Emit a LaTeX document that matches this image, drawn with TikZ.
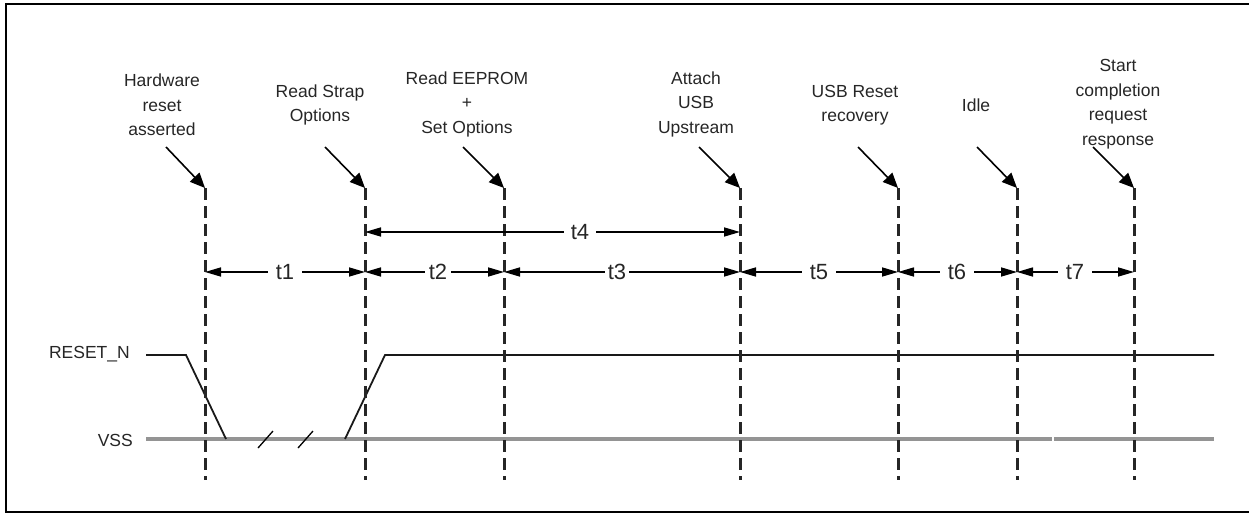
\documentclass[tikz,border=0pt]{standalone}
\usepackage{fontspec}
\setmainfont{Liberation Sans}
\usepackage{tikz}
\usetikzlibrary{arrows.meta}
\usetikzlibrary{positioning}
\tikzstyle{event} = [draw, line width=3pt, dash pattern=on 12pt off 6pt, color=black!85]
\tikzstyle{pointer} = [draw, line width=1.6pt, -{Triangle[length=15pt,width=13pt]}]
\tikzstyle{span} = [draw, line width=1.6pt, -{Triangle[length=16pt,width=9pt]}]

\begin{document}
\begin{tikzpicture}[x=1pt, y=-1pt,
	evlabel/.style={align=center, inner sep=0pt,
		font={\fontsize{17.5}{24.5}\selectfont}, text=black!85},
	tlabel/.style={inner sep=7pt, font={\fontsize{22}{24}\selectfont}, text=black!85},
	siglabel/.style={anchor=east, inner sep=0pt,
		font={\fontsize{17.5}{20}\selectfont}, text=black!85}]
	\useasboundingbox (0,0) rectangle (1249,514);
	%% Frame
	\draw[line width=2.2pt] (1262,4) -- (6,4) -- (6,512) -- (1262,512);
	%% Event lines
	\coordinate (e1) at (205,188); \coordinate (e1b) at (205,480);
	\coordinate (e2) at (365,188); \coordinate (e2b) at (365,480);
	\coordinate (e3) at (504,188); \coordinate (e3b) at (504,480);
	\coordinate (e4) at (740,188); \coordinate (e4b) at (740,480);
	\coordinate (e5) at (898,188); \coordinate (e5b) at (898,480);
	\coordinate (e6) at (1017,188); \coordinate (e6b) at (1017,480);
	\coordinate (e7) at (1134,188); \coordinate (e7b) at (1134,480);
	%% Signals
	\coordinate (vssL) at (146,439); \coordinate (vssM) at (1052,439);
	\coordinate (vssN) at (1054,439); \coordinate (vssR) at (1214,439);
	\path [draw, line width=4pt, color=black!42] (vssL) -- (vssM);
	\path [draw, line width=4pt, color=black!42] (vssN) -- (vssR);
	\coordinate (rstL) at (146,355); \coordinate (rstF) at (186,355);
	\coordinate (rstD) at (226,439); \coordinate (rstU) at (345,439);
	\coordinate (rstH) at (385,355); \coordinate (rstR) at (1214,355);
	\path [draw, line width=1.8pt, color=black!90] (rstL) -- (rstF) -- (rstD);
	\path [draw, line width=1.8pt, color=black!90] (rstU) -- (rstH) -- (rstR);
	\draw[line width=1.3pt] (258,448) -- (273,431);
	\draw[line width=1.3pt] (298,448) -- (313,431);
	\node[siglabel] (RESET) at (130,354) {RESET\_N};
	\node[siglabel] (VSS) at (133,440) {VSS};
	\path [event] (e1) -- (e1b);
	\path [event] (e2) -- (e2b);
	\path [event] (e3) -- (e3b);
	\path [event] (e4) -- (e4b);
	\path [event] (e5) -- (e5b);
	\path [event] (e6) -- (e6b);
	\path [event] (e7) -- (e7b);
	%% Event labels
	\node[evlabel] (hw) at (162,105) {Hardware\\reset\\asserted};
	\node[evlabel] (strap) at (320,105) {Read Strap\\Options};
	\node[evlabel] (eeprom) at (467,104) {Read EEPROM\\+\\Set Options};
	\node[evlabel] (attach) at (696,104) {Attach\\USB\\Upstream};
	\node[evlabel] (usbrst) at (855,105) {USB Reset\\recovery};
	\node[evlabel] (idle) at (976,105) {Idle};
	\node[evlabel] (start) at (1118,104) {Start\\completion\\request\\response};
	\coordinate (p1) at (166,147); \coordinate (p2) at (325,147);
	\coordinate (p3) at (463,147); \coordinate (p4) at (699,147);
	\coordinate (p5) at (858,147); \coordinate (p6) at (977,147);
	\coordinate (p7) at (1093,147);
	\path [pointer] (p1) -- (e1);
	\path [pointer] (p2) -- (e2);
	\path [pointer] (p3) -- (e3);
	\path [pointer] (p4) -- (e4);
	\path [pointer] (p5) -- (e5);
	\path [pointer] (p6) -- (e6);
	\path [pointer] (p7) -- (e7);
	%% Intervals
	\node[tlabel] (t4) at (580,232) {t4};
	\path [span] (t4.west) -- (e2 |- t4);
	\path [span] (t4.east) -- (e4 |- t4);
	\node[tlabel, inner sep=8pt] (t1) at (285,272) {t1};
	\node[tlabel, inner sep=4pt] (t2) at (438,272) {t2};
	\node[tlabel, inner sep=3pt] (t3) at (617,272) {t3};
	\node[tlabel, inner sep=8pt] (t5) at (819,272) {t5};
	\node[tlabel, inner sep=8pt] (t6) at (957,272) {t6};
	\node[tlabel, inner sep=8pt] (t7) at (1075,272) {t7};
	\path [span] (t1.west) -- (e1 |- t1);
	\path [span] (t1.east) -- (e2 |- t1);
	\path [span] (t2.west) -- (e2 |- t2);
	\path [span] (t2.east) -- (e3 |- t2);
	\path [span] (t3.west) -- (e3 |- t3);
	\path [span] (t3.east) -- (e4 |- t3);
	\path [span] (t5.west) -- (e4 |- t5);
	\path [span] (t5.east) -- (e5 |- t5);
	\path [span] (t6.west) -- (e5 |- t6);
	\path [span] (t6.east) -- (e6 |- t6);
	\path [span] (t7.west) -- (e6 |- t7);
	\path [span] (t7.east) -- (e7 |- t7);
\end{tikzpicture}
\end{document}
